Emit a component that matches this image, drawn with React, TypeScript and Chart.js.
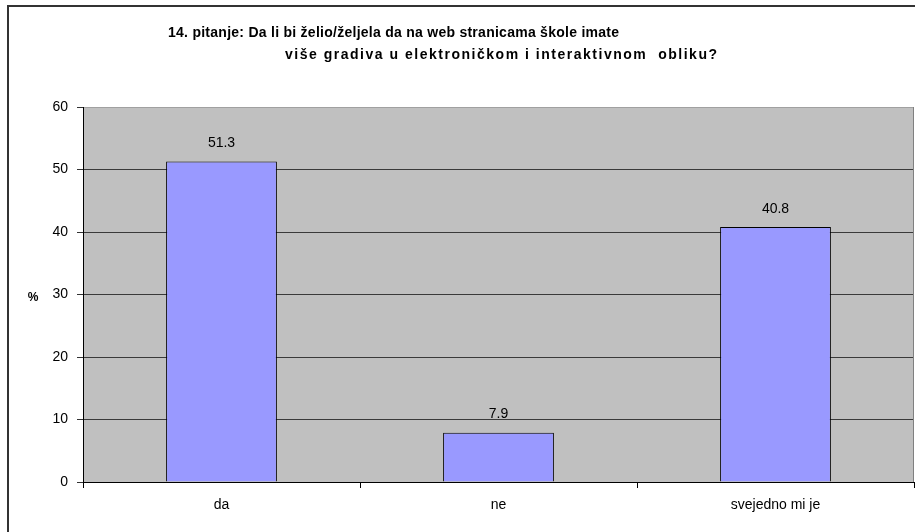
import React, { useEffect, useRef } from 'react';
import { Chart, registerables } from 'chart.js';

Chart.register(...registerables);

const categories: string[] = ['da', 'ne', 'svejedno mi je'];
const values: number[] = [51.3, 7.9, 40.8];
const valueLabels: string[] = ['51.3', '7.9', '40.8'];
const titleLines: string[] = [
  '14. pitanje: Da li bi želio/željela da na web stranicama škole imate',
  'više gradiva u elektroničkom i interaktivnom  obliku?',
];
const yAxisLabel = '%';
const yMin = 0;
const yMax = 60;
const yStep = 10;

const FONT = '"Liberation Sans", Arial, sans-serif';

function fitText(ctx: CanvasRenderingContext2D, text: string, x0: number, x1: number, y: number) {
  const c: any = ctx;
  c.letterSpacing = '0px';
  const natural = ctx.measureText(text).width;
  const extra = (x1 - x0 - natural) / Math.max(1, text.length - 1);
  c.letterSpacing = `${extra}px`;
  ctx.textAlign = 'left';
  ctx.fillText(text, x0, y);
  c.letterSpacing = '0px';
}

const decorPlugin = {
  id: 'decor',
  beforeDraw(chart: any) {
    const { ctx, chartArea } = chart;
    ctx.save();
    ctx.fillStyle = '#ffffff';
    ctx.fillRect(0, 0, chart.width, chart.height);
    ctx.fillStyle = '#C0C0C0';
    ctx.fillRect(chartArea.left, chartArea.top, chartArea.right - chartArea.left, chartArea.bottom - chartArea.top);
    ctx.restore();
  },
  afterDraw(chart: any) {
    const { ctx, chartArea } = chart;
    ctx.save();
    ctx.strokeStyle = '#808080';
    ctx.lineWidth = 1;
    ctx.beginPath();
    ctx.moveTo(chartArea.right - 0.5, chartArea.top);
    ctx.lineTo(chartArea.right - 0.5, chartArea.bottom);
    ctx.stroke();
    ctx.strokeStyle = '#333333';
    ctx.lineWidth = 2;
    ctx.beginPath();
    ctx.moveTo(8, chart.height + 5);
    ctx.lineTo(8, 6);
    ctx.lineTo(chart.width + 5, 6);
    ctx.stroke();
    ctx.fillStyle = '#000';
    ctx.font = `bold 14px ${FONT}`;
    ctx.textBaseline = 'middle';
    fitText(ctx, titleLines[0], 168, 619, 33);
    fitText(ctx, titleLines[1], 285, 717, 55);
    ctx.textAlign = 'center';
    ctx.font = `bold 12px ${FONT}`;
    ctx.fillText(yAxisLabel, 33, 298);
    ctx.font = `14px ${FONT}`;
    const meta = chart.getDatasetMeta(0);
    meta.data.forEach((bar: any, i: number) => {
      ctx.fillText(valueLabels[i], bar.x, bar.y - 18);
    });
    ctx.restore();
  },
};

export default function App() {
  const canvasRef = useRef<HTMLCanvasElement | null>(null);
  useEffect(() => {
    const canvas = canvasRef.current;
    if (!canvas) return;
    const chart = new Chart(canvas, {
      type: 'bar',
      data: {
        labels: categories,
        datasets: [
          {
            data: values,
            backgroundColor: '#9999FF',
            borderColor: '#000000',
            borderWidth: 1,
            barPercentage: 0.4,
            categoryPercentage: 1,
          },
        ],
      },
      options: {
        responsive: false,
        animation: false,
        devicePixelRatio: 1,
        layout: { padding: { left: 0, top: 107, right: 1, bottom: 0 } },
        plugins: {
          legend: { display: false },
          title: { display: false },
          tooltip: { enabled: false },
        },
        scales: {
          x: {
            grid: {
              display: true,
              drawOnChartArea: false,
              drawTicks: true,
              tickLength: 6,
              tickColor: '#000000',
              offset: true,
            },
            border: { display: true, color: '#000000', width: 1 },
            ticks: { color: '#000', font: { family: FONT, size: 14 }, padding: 9, maxRotation: 0 },
            afterFit(scale: any) {
              scale.height = 50;
            },
          },
          y: {
            min: yMin,
            max: yMax,
            ticks: { stepSize: yStep, color: '#000', font: { family: FONT, size: 14 }, padding: 9 },
            grid: {
              color: (c: any) => (c.tick && c.tick.value === yMax ? '#a0a0a0' : c.tick && c.tick.value === yMin ? '#000000' : '#3a3a3a'),
              tickColor: '#333333',
              tickLength: 6,
              lineWidth: 1,
            },
            border: { display: true, color: '#000000', width: 1 },
            afterFit(scale: any) {
              scale.width = 83;
            },
          },
        },
      },
      plugins: [decorPlugin],
    });
    return () => chart.destroy();
  }, []);
  return (
    <div style={{ position: 'fixed', left: 0, top: 0, width: 915, height: 532, background: '#fff' }}>
      <canvas ref={canvasRef} width={915} height={532} style={{ width: 915, height: 532, display: 'block' }} />
    </div>
  );
}
